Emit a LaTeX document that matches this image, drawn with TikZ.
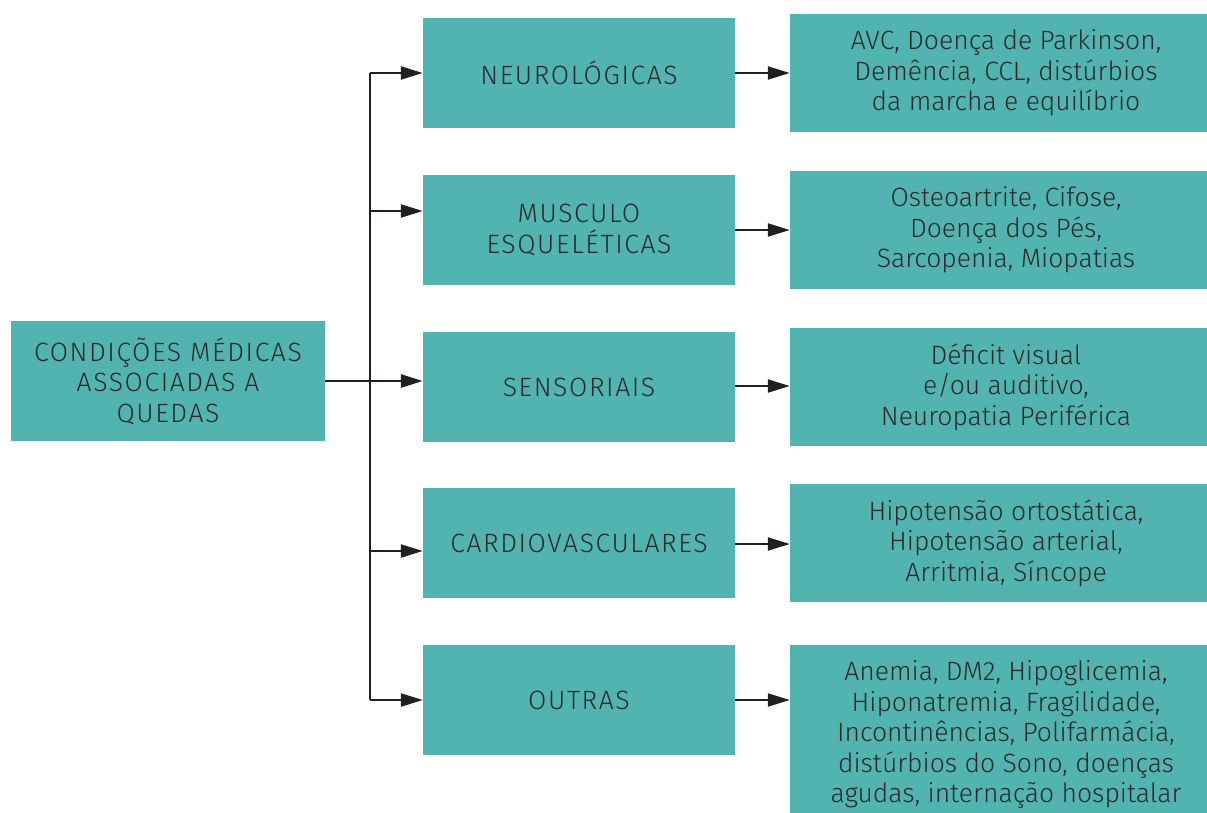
\documentclass[tikz,border=0pt]{standalone}
\usepackage{fontspec}
\setmainfont{Fira Sans}[UprightFont=* Light]
\newfontfamily\capsfont{Fira Sans}[UprightFont=* Light, LetterSpace=6]
\usetikzlibrary{arrows.meta,positioning}
\definecolor{teal1}{HTML}{52B4B0}
\definecolor{ink}{HTML}{2A2A2A}
\definecolor{wire}{HTML}{231F20}
\begin{document}
\begin{tikzpicture}[x=1pt,y=-1pt]
\tikzstyle{box}=[fill=teal1, text=ink, align=center, inner sep=0pt, font=\fontsize{26.5}{30.5}\selectfont]
\tikzstyle{capbox}=[box, font=\fontsize{26.5}{30.5}\capsfont]
\tikzstyle{arr}=[draw=wire, line width=2.2pt, -{Triangle[length=22pt,width=13pt]}]
\clip (0,0) rectangle (1207,812);
% left box
\node[capbox, minimum width=314pt, minimum height=120pt] (c) at (168,381) {CONDIÇÕES MÉDICAS\\ASSOCIADAS A\\QUEDAS};
% middle boxes
\foreach \name/\y/\txt in {1/73/NEUROLÓGICAS,2/230/{MUSCULO\\ESQUELÉTICAS},3/387/SENSORIAIS,4/543/CARDIOVASCULARES,5/700/OUTRAS}
    \node[capbox, minimum width=312pt, minimum height=110pt] (m\name) at (579,\y) {\txt};
% right boxes (run past the page edge)
\foreach \name/\y/\txt in {1/73/{AVC, Doença de Parkinson,\\Demência, CCL, distúrbios\\da marcha e equilíbrio},
    2/230/{Osteoartrite, Cifose,\\Doença dos Pés,\\Sarcopenia, Miopatias},
    3/387/{Déficit visual\\e/ou auditivo,\\Neuropatia Periférica},
    4/543/{Hipotensão ortostática,\\Hipotensão arterial,\\Arritmia, Síncope}}
    \node[box, minimum width=432pt, minimum height=118pt] (r\name) at (1006,\y) {\txt};
\node[box, minimum width=432pt, minimum height=180pt] (r5) at (1006,735) {Anemia, DM2, Hipoglicemia,\\Hiponatremia, Fragilidade,\\Incontinências, Polifarmácia,\\distúrbios do Sono, doenças\\agudas, internação hospitalar};
% trunk
\foreach \name/\y in {1/73,2/211,3/381,4/551,5/700}
    \coordinate (j\name) at (370,\y);
\draw[wire, line width=2.2pt] (j1) -- (j5);
\draw[arr, line width=2.8pt] (c.east |- j3) -- (j3 -| m3.west);
\foreach \h in {1,2,4,5}
    \draw[arr] (j\h) -- (j\h -| m\h.west);
\foreach \h/\y in {1/73,2/230,3/386,4/544,5/700}
    \draw[arr] (m\h.east |- 0,\y) -- (r\h.west |- 0,\y);
\end{tikzpicture}
\end{document}
